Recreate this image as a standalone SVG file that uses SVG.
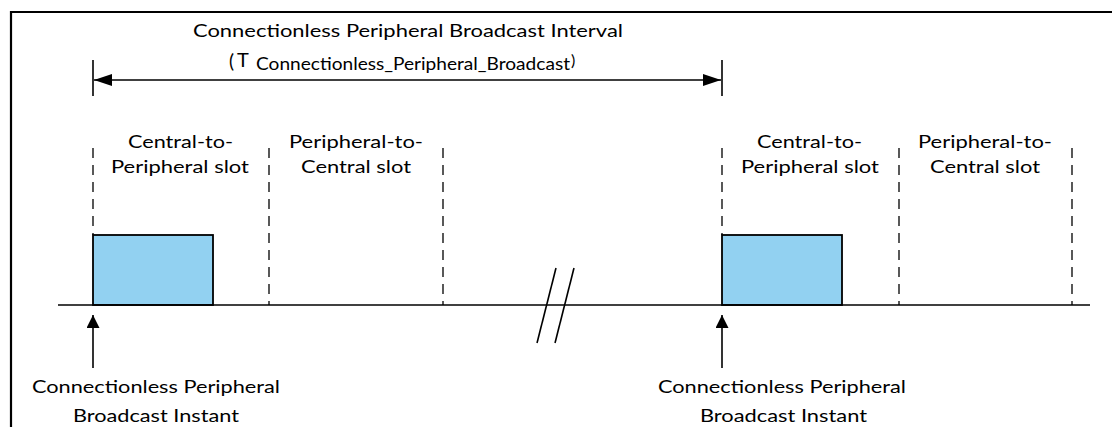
<svg xmlns="http://www.w3.org/2000/svg" width="1112" height="427" viewBox="0 0 1112 427">
  <style>
    .t { font-family: Lato, "Liberation Sans", sans-serif; font-size: 18px; fill: #000; }
    .dash { stroke: #000; stroke-width: 1.3; stroke-dasharray: 10 7; fill: none; }
    .ln { stroke: #000; stroke-width: 1.6; fill: none; }
    .pkt { fill: #92D1F1; stroke: #000; stroke-width: 1.8; }
  </style>
  <defs>
    <marker id="ah" viewBox="0 0 18 12" refX="18" refY="6" markerWidth="18" markerHeight="12" markerUnits="userSpaceOnUse" orient="auto-start-reverse">
      <path d="M0,0 L18,6 L0,12 Z" fill="#000"/>
    </marker>
    <marker id="ah2" viewBox="0 0 13 13" refX="13" refY="6.5" markerWidth="13" markerHeight="13" markerUnits="userSpaceOnUse" orient="auto">
      <path d="M0,0 L13,6.5 L0,13 Z" fill="#000"/>
    </marker>
  </defs>
  <rect width="1112" height="427" fill="#fff"/>
  <g id="frame">
    <path d="M11,427 L11,12 L1112,12" stroke="#000" stroke-width="2.2" fill="none"/>
  </g>
  <g id="interval">
    <text class="t" x="193" y="37" textLength="430" lengthAdjust="spacingAndGlyphs">Connectionless Peripheral Broadcast Interval</text>
    <text class="t" x="229" y="68" style="font-size:19px">(</text>
    <text class="t" x="237" y="67" style="font-size:20px">T</text>
    <text class="t" x="256" y="70" style="font-size:16.5px" textLength="314" lengthAdjust="spacingAndGlyphs">Connectionless_Peripheral_Broadcast</text>
    <text class="t" x="571" y="66" style="font-size:16px">)</text>
  </g>
  <g id="slot-labels">
    <text class="t" x="128" y="148" textLength="105" lengthAdjust="spacingAndGlyphs">Central-to-</text>
    <text class="t" x="111" y="173" textLength="138" lengthAdjust="spacingAndGlyphs">Peripheral slot</text>
    <text class="t" x="289" y="148" textLength="134" lengthAdjust="spacingAndGlyphs">Peripheral-to-</text>
    <text class="t" x="301" y="173" textLength="110" lengthAdjust="spacingAndGlyphs">Central slot</text>
    <text class="t" x="757" y="148" textLength="105" lengthAdjust="spacingAndGlyphs">Central-to-</text>
    <text class="t" x="741" y="173" textLength="138" lengthAdjust="spacingAndGlyphs">Peripheral slot</text>
    <text class="t" x="918" y="148" textLength="134" lengthAdjust="spacingAndGlyphs">Peripheral-to-</text>
    <text class="t" x="930" y="173" textLength="110" lengthAdjust="spacingAndGlyphs">Central slot</text>
  </g>
  <g id="packet1"><rect class="pkt" x="93" y="235" width="120" height="70"/></g>
  <g id="packet2"><rect class="pkt" x="722" y="235" width="120" height="70"/></g>
  <g id="instant-labels">
    <text class="t" x="32" y="393" textLength="248" lengthAdjust="spacingAndGlyphs">Connectionless Peripheral</text>
    <text class="t" x="73" y="422" textLength="166" lengthAdjust="spacingAndGlyphs">Broadcast Instant</text>
    <text class="t" x="658" y="393" textLength="248" lengthAdjust="spacingAndGlyphs">Connectionless Peripheral</text>
    <text class="t" x="700" y="422" textLength="167" lengthAdjust="spacingAndGlyphs">Broadcast Instant</text>
  </g>
  <g id="connectors">
    <line class="dash" x1="93" y1="148" x2="93" y2="235"/>
    <line class="dash" x1="269" y1="148" x2="269" y2="305"/>
    <line class="dash" x1="443" y1="148" x2="443" y2="305"/>
    <line class="dash" x1="722" y1="148" x2="722" y2="235"/>
    <line class="dash" x1="899" y1="148" x2="899" y2="305"/>
    <line class="dash" x1="1072" y1="148" x2="1072" y2="305"/>
    <line class="ln" x1="58" y1="305" x2="1090" y2="305"/>
    <line class="ln" x1="556" y1="268" x2="537" y2="343"/>
    <line class="ln" x1="574" y1="268" x2="555" y2="343"/>
    <line class="ln" x1="93" y1="60" x2="93" y2="96"/>
    <line class="ln" x1="722" y1="60" x2="722" y2="96"/>
    <line class="ln" x1="94" y1="80" x2="721" y2="80" marker-start="url(#ah)" marker-end="url(#ah)"/>
    <line class="ln" x1="93" y1="368" x2="93" y2="315" marker-end="url(#ah2)"/>
    <line class="ln" x1="722" y1="368" x2="722" y2="315" marker-end="url(#ah2)"/>
  </g>
</svg>
